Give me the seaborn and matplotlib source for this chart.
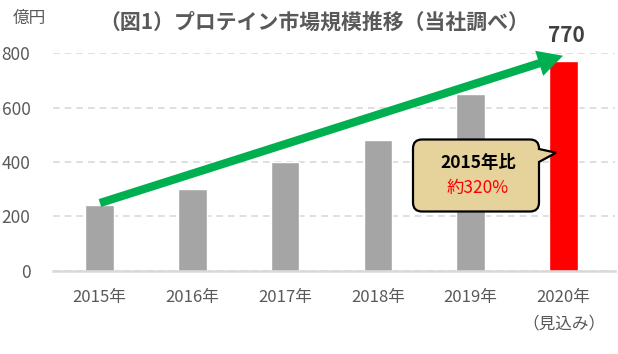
import matplotlib
matplotlib.use("Agg")
import matplotlib.pyplot as plt
import seaborn as sns
import pandas as pd
from matplotlib.path import Path
from matplotlib.patches import PathPatch

# ---- data ----
years = ["2015年", "2016年", "2017年", "2018年", "2019年", "2020年"]
tick_labels = ["2015年", "2016年", "2017年", "2018年", "2019年", "2020年\n（見込み）"]
market = [240, 300, 400, 480, 650, 770]
bar_colors = ["#A5A5A5", "#A5A5A5", "#A5A5A5", "#A5A5A5", "#A5A5A5", "#FF0000"]
y_ticks = [0, 200, 400, 600, 800]
title = "（図1）プロテイン市場規模推移（当社調べ）"
unit = "億円"
callout_line1 = "2015年比"
callout_line2 = "約320%"

sns.set_theme(style="white")
plt.rcParams["font.family"] = ["Noto Sans CJK JP", "DejaVu Sans"]

W, H = 618, 354
fig = plt.figure(figsize=(W / 100, H / 100), dpi=100)
ax = fig.add_axes([52.7 / W, 1 - 270.7 / H, (615 - 52.7) / W, (270.7 - 53.3) / H])

df = pd.DataFrame({"year": years, "value": market})
sns.barplot(data=df, x="year", y="value", hue="year", palette=bar_colors,
            legend=False, width=0.31, saturation=1, ax=ax, zorder=2)

ax.set_xlim(-0.504, 5.555)
ax.set_ylim(0, 800)
ax.set_yticks(y_ticks)
ax.set_xticks(range(len(years)))
ax.set_xticklabels(tick_labels, fontsize=12, color="#595959", linespacing=1.75)
ax.set_yticklabels([str(v) for v in y_ticks], fontsize=12.5, color="#595959")
ax.tick_params(axis="x", length=0, pad=13)
ax.tick_params(axis="y", length=0, pad=16)
for lab in ax.get_xticklabels():
    lab.set_verticalalignment("top")
ax.set_xlabel("")
ax.set_ylabel("")
ax.yaxis.grid(True, color="#D9D9D9", linestyle=(0, (4, 3)), linewidth=1.2, zorder=0)
ax.set_axisbelow(True)
for s in ["left", "right", "top"]:
    ax.spines[s].set_visible(False)
ax.spines["bottom"].set_color("#D9D9D9")
ax.spines["bottom"].set_linewidth(1.8)
ax.spines["bottom"].set_zorder(3)

# growth arrow
ax.annotate("", xy=(4.995, market[5] + 21), xytext=(0.005, market[0] + 9),
            xycoords="data", textcoords="data",
            arrowprops=dict(arrowstyle="simple,head_length=1.0,head_width=1.05,tail_width=0.33",
                            mutation_scale=18, color="#00B050", lw=0,
                            shrinkA=0, shrinkB=0),
            annotation_clip=False, zorder=5)

# value label over 2020
ax.text(5.03, 865, "770", ha="center", va="center", fontsize=15, fontweight="bold",
        color="#404040", clip_on=False)

# title and unit
fig.text(314 / W, 1 - 22 / H, title, ha="center", va="center", fontsize=15,
         fontweight="bold", color="#595959")
fig.text(29 / W, 1 - 18 / H, unit, ha="center", va="center", fontsize=12, color="#595959")

# callout with pointer (figure pixel coords)
def P(x, y):
    return (x / W, 1 - y / H)

L, R, T, B, r = 413, 539, 139.5, 211.5, 9
verts = [P(L + r, T), P(R - r, T), P(R, T), P(R, T + r), P(R, T + r + 0.5),
         P(556, 152.7), P(R, 162), P(R, B - r), P(R, B), P(R - r, B), P(L + r, B),
         P(L, B), P(L, B - r), P(L, T + r), P(L, T), P(L + r, T), P(L + r, T)]
codes = [Path.MOVETO, Path.LINETO, Path.CURVE3, Path.CURVE3, Path.LINETO,
         Path.LINETO, Path.LINETO, Path.LINETO, Path.CURVE3, Path.CURVE3, Path.LINETO,
         Path.CURVE3, Path.CURVE3, Path.LINETO, Path.CURVE3, Path.CURVE3, Path.CLOSEPOLY]
patch = PathPatch(Path(verts, codes), facecolor="#E6D29B", edgecolor="black",
                  lw=1.6, transform=fig.transFigure, zorder=10)
fig.add_artist(patch)
fig.text(478 / W, 1 - 163 / H, callout_line1, ha="center", va="center", fontsize=12.5,
         fontweight="bold", color="black", zorder=11)
fig.text(478 / W, 1 - 188 / H, callout_line2, ha="center", va="center", fontsize=12.5,
         color="#FF0000", zorder=11)

fig.savefig("out.png", dpi=100)
